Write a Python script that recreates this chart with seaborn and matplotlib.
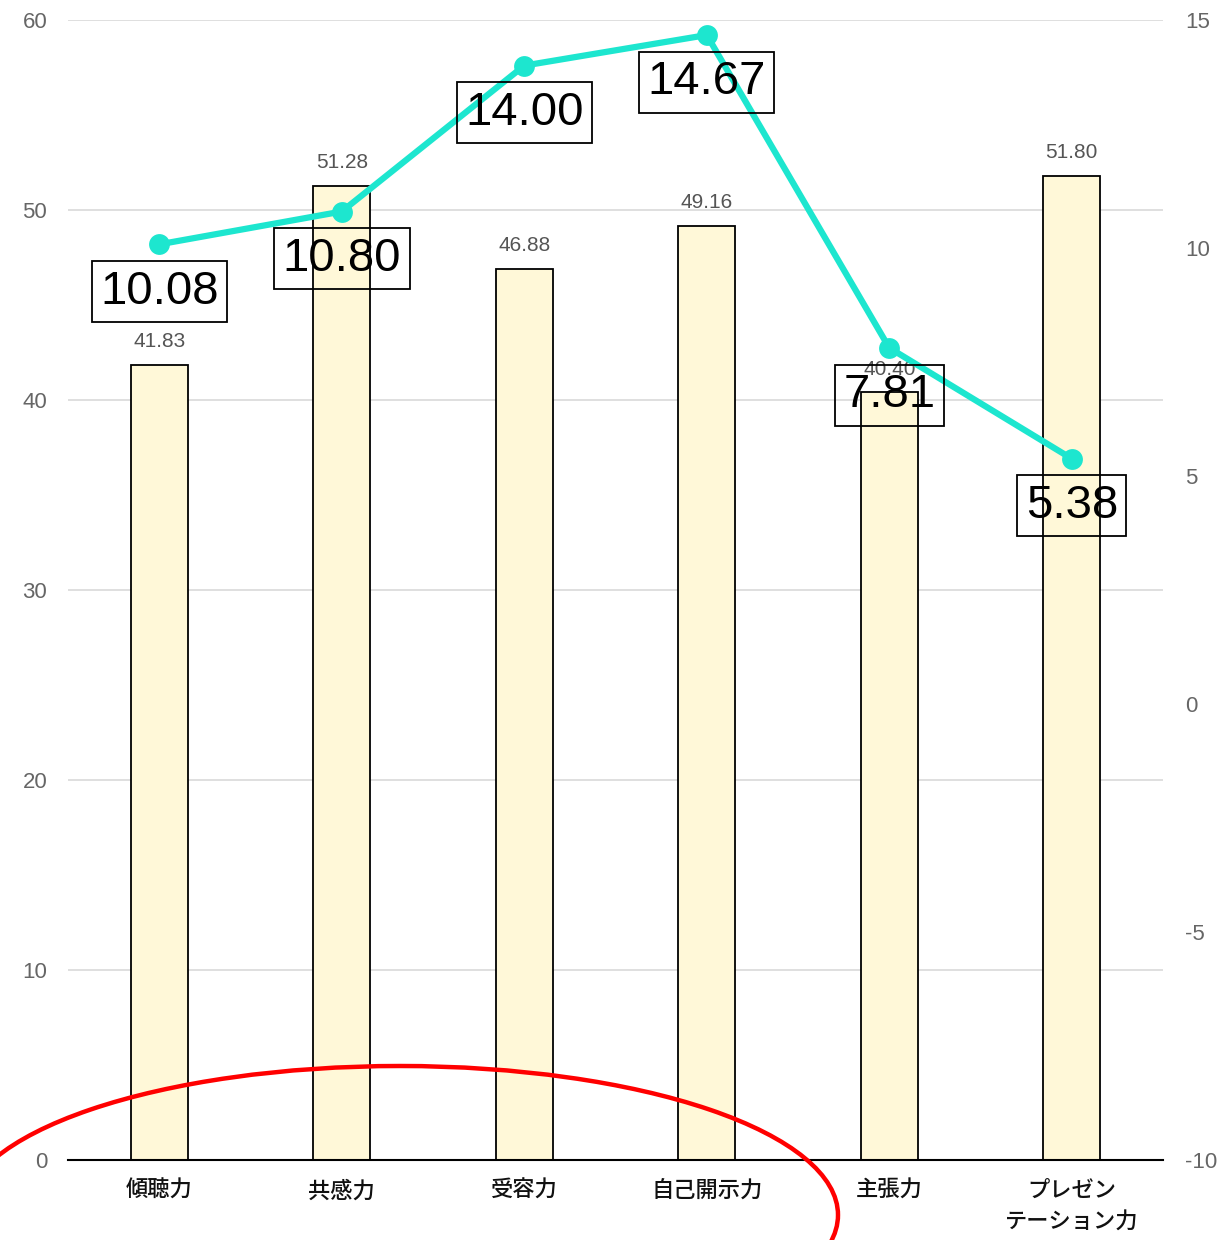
import matplotlib
matplotlib.use("Agg")
import matplotlib.pyplot as plt
import seaborn as sns
import pandas as pd
from matplotlib.patches import Ellipse

categories = ["傾聴力", "共感力", "受容力", "自己開示力", "主張力", "プレゼン\nテーション力"]
bar_values = [41.83, 51.28, 46.88, 49.16, 40.40, 51.80]
line_values = [10.08, 10.80, 14.00, 14.67, 7.81, 5.38]
left_ticks = [0, 10, 20, 30, 40, 50, 60]
right_ticks = [-10, -5, 0, 5, 10, 15]

sns.set_theme(style="white")
plt.rcParams["font.family"] = ["Liberation Sans", "Noto Sans CJK JP", "DejaVu Sans"]
plt.rcParams["axes.unicode_minus"] = False

df = pd.DataFrame({"cat": categories, "bar": bar_values, "line": line_values})

fig = plt.figure(figsize=(12.2, 12.4), dpi=100)
ax = fig.add_axes([68/1220, 80/1240, (1163-68)/1220, (1160-20)/1240])

sns.barplot(data=df, x="cat", y="bar", order=categories, color="#fff8d8",
            edgecolor="black", linewidth=1.3, width=0.31, saturation=1, ax=ax, zorder=2)
ax.set_xlim(-0.5, 5.5)
ax.set_ylim(0, 60)
ax.set_yticks(left_ticks)
ax.grid(axis="y", color="#d9d9d9", linewidth=1.2, zorder=0)
ax.set_axisbelow(True)
for s in ["top", "left", "right"]:
    ax.spines[s].set_visible(False)
ax.spines["bottom"].set_color("black")
ax.spines["bottom"].set_linewidth(1.5)
ax.set_xlabel("")
ax.set_ylabel("")
ax.tick_params(axis="y", length=0, labelsize=16, labelcolor="#666666", pad=15)
ax.tick_params(axis="x", length=0, labelsize=16, labelcolor="#111111", pad=15)
for lbl in ax.get_xticklabels():
    lbl.set_fontweight("medium")
    lbl.set_linespacing(1.7)

for i, v in enumerate(bar_values):
    ax.annotate(f"{v:.2f}", (i, v), xytext=(0, 10), textcoords="offset points",
                ha="center", va="bottom", fontsize=15, color="#555555", zorder=5)

ax2 = ax.twinx()
sns.lineplot(data=df, x="cat", y="line", ax=ax2, color="#1de6cf", linewidth=4.5,
             marker="o", markersize=15, markeredgewidth=0, sort=False, zorder=4)
ax2.set_ylim(-10, 15)
ax2.set_yticks(right_ticks)
ax2.set_ylabel("")
for s in ["top", "left", "right", "bottom"]:
    ax2.spines[s].set_visible(False)
ax2.tick_params(axis="y", length=0, labelsize=16, labelcolor="#666666", pad=16)

for i, v in enumerate(line_values):
    ax2.annotate(f"{v:.2f}", (i, v), xytext=(0, -34), textcoords="offset points",
                 ha="center", va="center", fontsize=34, color="black", zorder=6,
                 bbox=dict(boxstyle="square,pad=0.18", facecolor="none",
                           edgecolor="black", linewidth=1.3))

fig.add_artist(Ellipse((400/1220, 1 - 1215/1240), 876/1220, 298/1240,
                       fill=False, edgecolor="red", linewidth=3.2, zorder=10))

fig.savefig("out.png", dpi=100, facecolor="white")
